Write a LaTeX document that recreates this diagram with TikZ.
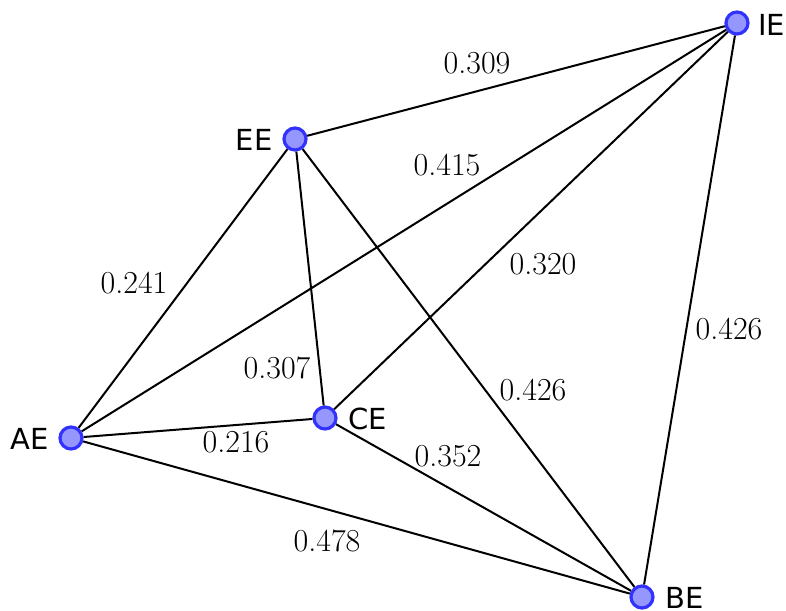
\documentclass[tikz,border=0pt]{standalone}
\usepackage{fontspec}
\usetikzlibrary{calc}
\newfontfamily\labfont{DejaVu Sans}
\definecolor{vfill}{RGB}{150,150,255}
\definecolor{vdraw}{RGB}{50,50,255}
\begin{document}
\begin{tikzpicture}[x=0.5pt,y=-0.5pt,
  vert/.style={circle,draw=vdraw,fill=vfill,line width=1.6pt,minimum size=11pt,inner sep=0pt},
  vname/.style={inner sep=0pt,font=\labfont\fontsize{14.5}{17}\selectfont},
  wt/.style={inner sep=0pt,font=\fontsize{16}{19}\selectfont},
  edge/.style={line width=1pt,black}]
\useasboundingbox (0,0) rectangle (786,610);
\node[vert] (IE) at (737,23) {};
\node[vert] (EE) at (295,139) {};
\node[vert] (AE) at (71,438) {};
\node[vert] (CE) at (325,418) {};
\node[vert] (BE) at (642,597) {};
\draw[edge] (EE) -- (IE);
\draw[edge] (AE) -- (IE);
\draw[edge] (CE) -- (IE);
\draw[edge] (BE) -- (IE);
\draw[edge] (AE) -- (EE);
\draw[edge] (CE) -- (EE);
\draw[edge] (BE) -- (EE);
\draw[edge] (AE) -- (CE);
\draw[edge] (AE) -- (BE);
\draw[edge] (CE) -- (BE);
\node[vname,anchor=west] (tIE) at ($(IE.center)+(21,2)$) {IE};
\node[vname,anchor=east] (tEE) at ($(EE.center)+(-22,1)$) {EE};
\node[vname,anchor=east] (tAE) at ($(AE.center)+(-22,1)$) {AE};
\node[vname,anchor=west] (tCE) at ($(CE.center)+(23,1)$) {CE};
\node[vname,anchor=west] (tBE) at ($(BE.center)+(23,1)$) {BE};
\node[wt] (w1) at (477,63) {0.309};
\node[wt] (w2) at (447,165) {0.415};
\node[wt] (w3) at (134,283) {0.241};
\node[wt] (w4) at (543,264) {0.320};
\node[wt] (w5) at (729,329) {0.426};
\node[wt] (w6) at (277,368) {0.307};
\node[wt] (w7) at (533,390) {0.426};
\node[wt] (w8) at (236,442) {0.216};
\node[wt] (w9) at (448,456) {0.352};
\node[wt] (w10) at (327,541) {0.478};
\end{tikzpicture}
\end{document}
